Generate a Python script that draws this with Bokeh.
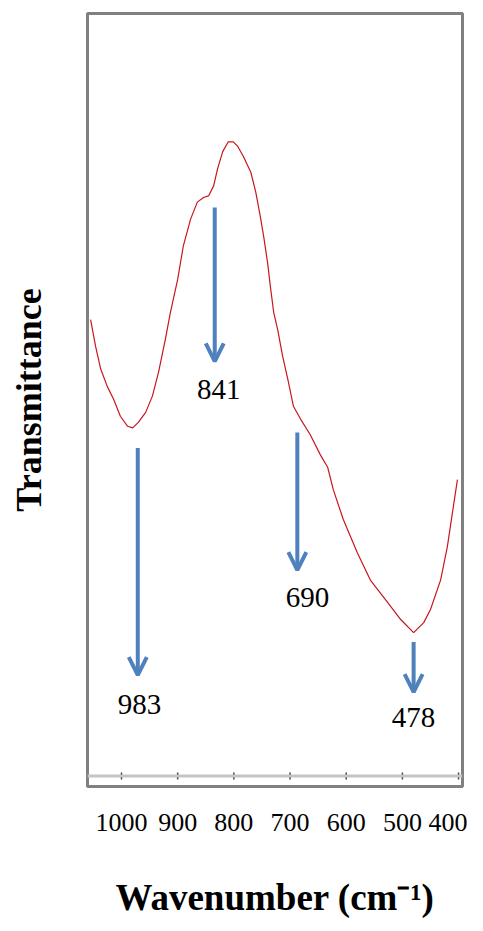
from bokeh.plotting import figure
from bokeh.models import Range1d, FixedTicker, Span, Arrow, OpenHead, ColumnDataSource
from bokeh.core.properties import value
from bokeh.embed import file_html
from bokeh.resources import INLINE

# ---- spectrum data (wavenumber, transmittance in arbitrary units) ----
wavenumber = [1055, 1046, 1037, 1025, 1014, 1002, 989, 980, 970, 957, 945, 934, 922, 913,
              900, 890, 877, 865, 854, 845, 836, 829, 820, 810, 801, 793, 783, 770, 761,
              753, 747, 740, 735, 729, 722, 713, 704, 694, 681, 664, 646, 633, 623, 605,
              580, 557, 526, 503, 480, 462, 450, 432, 420, 411, 402]
transmittance = [60.4, 56.9, 54.0, 51.7, 50.1, 47.9, 46.6, 46.4, 47.1, 48.4, 50.5, 53.6, 57.8, 61.3,
                 65.6, 69.9, 73.4, 75.6, 76.2, 76.4, 77.7, 79.9, 82.1, 83.4, 83.4, 82.8, 81.5, 79.5, 76.9,
                 73.8, 71.2, 67.8, 64.7, 61.3, 59.1, 55.6, 52.7, 49.2, 47.5, 45.5, 42.9, 41.3, 38.4, 34.5,
                 30.2, 26.7, 23.8, 21.6, 19.9, 21.2, 22.9, 26.7, 31.0, 35.4, 39.7]

# ---- peak annotations ----
peak_labels = ["983", "841", "690", "478"]
arrow_x = [971, 834, 687, 480]
arrow_top = [43.8, 74.9, 45.8, 18.7]
arrow_bottom = [14.4, 55.0, 28.0, 12.2]
label_x = [968, 827, 669, 480]
label_y = [10.6, 51.4, 24.4, 8.9]

tick_values = [1000, 900, 800, 700, 600, 500, 400]
axis_base = 1.36

x_title = "Wavenumber (cm\u207b\u00b9)"
y_title = "Transmittance"

SERIF = "Liberation Serif"

p = figure(width=467, height=929, output_backend="svg", toolbar_location=None,
           x_range=Range1d(1060.5, 393), y_range=Range1d(0, 100))
p.min_border_left = 87
p.min_border_right = 5
p.min_border_top = 13
p.min_border_bottom = 143
p.background_fill_color = "white"
p.border_fill_color = "white"
p.outline_line_color = "#808080"
p.outline_line_width = 3
p.xgrid.visible = False
p.ygrid.visible = False

# x axis: labels only (axis line drawn inside the frame)
xa = p.xaxis[0]
xa.ticker = FixedTicker(ticks=tick_values)
xa.axis_line_color = None
xa.major_tick_line_color = None
xa.minor_tick_line_color = None
xa.major_tick_out = 0
xa.major_tick_in = 0
xa.major_label_standoff = 27
xa.major_label_text_font = SERIF
xa.major_label_text_font_size = "26px"
xa.major_label_text_color = "black"
xa.axis_label = x_title
xa.axis_label_text_font = SERIF
xa.axis_label_text_font_style = "bold"
xa.axis_label_text_font_size = "37px"
xa.axis_label_text_color = "black"
xa.axis_label_standoff = 43

ya = p.yaxis[0]
ya.ticker = FixedTicker(ticks=[])
ya.axis_line_color = None
ya.major_tick_line_color = None
ya.minor_tick_line_color = None
ya.major_tick_out = 0
ya.major_label_standoff = 0
ya.axis_label = y_title
ya.axis_label_text_font = SERIF
ya.axis_label_text_font_style = "bold"
ya.axis_label_text_font_size = "36px"
ya.axis_label_text_color = "black"
ya.axis_label_standoff = 39

# inner axis line with tick marks
p.add_layout(Span(location=axis_base, dimension="width", line_color="#c4c4c4", line_width=3))
p.segment(x0=tick_values, x1=tick_values, y0=[axis_base - 0.45] * len(tick_values),
          y1=[axis_base + 0.45] * len(tick_values), line_color="#404040", line_width=1.5)

# spectrum
p.line(wavenumber, transmittance, line_color="#c8161d", line_width=1.2)

# arrows
for ax, at, ab in zip(arrow_x, arrow_top, arrow_bottom):
    p.add_layout(Arrow(x_start=ax, y_start=at, x_end=ax, y_end=ab,
                       line_color="#4f81bd", line_width=4,
                       end=OpenHead(size=18, line_color="#4f81bd", line_width=4)))

src = ColumnDataSource(dict(x=label_x, y=label_y, t=peak_labels))
p.text(x="x", y="y", text="t", source=src, text_font=value(SERIF), text_font_size="29px",
       text_align="center", text_baseline="middle", text_color="black")

open("out.html", "w").write(file_html(p, INLINE))
